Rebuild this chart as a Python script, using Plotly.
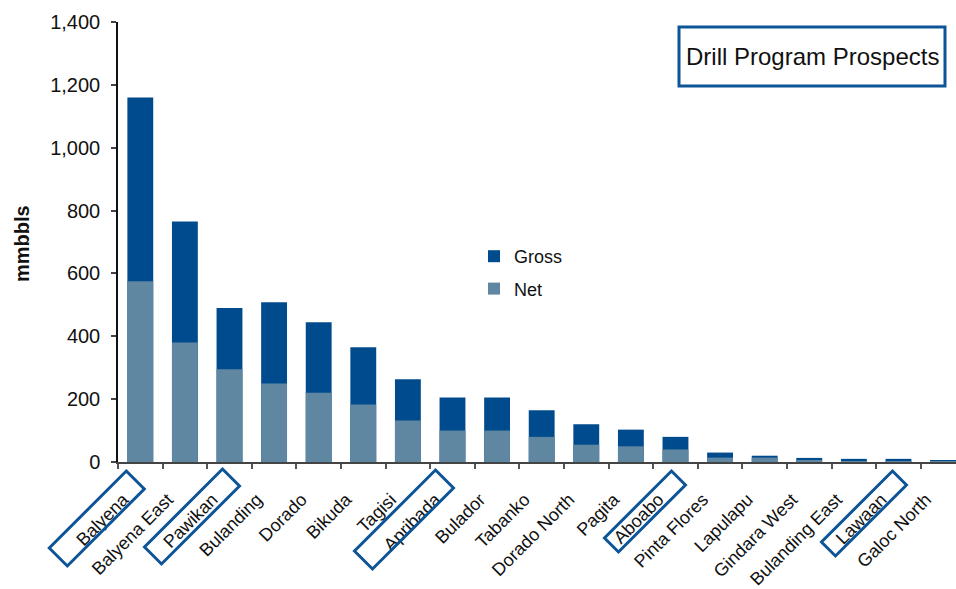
import plotly.graph_objects as go

prospects = ["Balyena", "Balyena East", "Pawikan", "Bulanding", "Dorado", "Bikuda",
             "Tagisi", "Apribada", "Bulador", "Tabanko", "Dorado North", "Pagita",
             "Aboabo", "Pinta Flores", "Lapulapu", "Gindara West", "Bulanding East",
             "Lawaan", "Galoc North"]
gross = [1160, 765, 490, 508, 445, 365, 263, 205, 205, 165, 120, 103, 80, 30, 20, 13, 10, 10, 4]
net = [575, 380, 295, 250, 220, 183, 132, 100, 100, 80, 55, 50, 40, 14, 14, 6, 3, 3, 1]

# highlighted (drill program) prospects
highlighted = ["Balyena", "Pawikan", "Apribada", "Aboabo", "Lawaan"]

FONT = "Liberation Sans"
GROSS_C = "#004B8D"
NET_C = "#5F87A1"
BOX_C = "#0D5596"

W, H = 956, 589
ML, MR, MT, MB = 118, 0, 22, 127
PW, PH = W - ML - MR, H - MT - MB
XMIN, XMAX = -0.5, 18.29
STEP = PW / (XMAX - XMIN)

def px_x(p):
    return (p - ML) / PW

def px_y(p):
    return (H - MB - p) / PH

fig = go.Figure()
fig.add_trace(go.Bar(x=prospects, y=gross, name="Gross", marker_color=GROSS_C,
                     marker_line_width=0, width=0.58, legendgroup="g"))
fig.add_trace(go.Bar(x=prospects, y=net, name="Net", marker_color=NET_C,
                     marker_line_width=0, width=0.58, legendgroup="n"))

# rotated boxes around highlighted tick labels (screen-pixel offsets from tick position)
box_geom = {
    "Balyena": (-14, 9, 18, 77),
    "Pawikan": (-7, 7, 17, 78),
    "Apribada": (-17, 8, 18, 81),
    "Aboabo": (-4, 9, 14, 67),
    "Lawaan": (-6, 9, 14, 71),
}
base_y = H - MB
for name in highlighted:
    dx, dy, s, l = box_geom[name]
    cx = ML + (prospects.index(name) - XMIN) * STEP
    pts = [(dx, dy), (dx + s, dy + s), (dx + s - l, dy + s + l), (dx - l, dy + l)]
    path = "M " + " L ".join(f"{px_x(cx + x):.5f},{px_y(base_y + y):.5f}" for x, y in pts) + " Z"
    fig.add_shape(type="path", xref="paper", yref="paper", path=path,
                  line=dict(color=BOX_C, width=3), fillcolor="rgba(0,0,0,0)", layer="above")

# title box
fig.add_shape(type="rect", xref="paper", yref="paper",
              x0=px_x(679), x1=px_x(945), y0=px_y(86), y1=px_y(27),
              line=dict(color=BOX_C, width=3), fillcolor="white", layer="above")
fig.add_annotation(xref="paper", yref="paper", x=px_x(812), y=px_y(56),
                   text="Drill Program Prospects", showarrow=False,
                   font=dict(family=FONT, size=24, color="#111"),
                   xanchor="center", yanchor="middle")

# y-axis title
fig.add_annotation(xref="paper", yref="paper", x=px_x(22), y=px_y(244),
                   text="<b>mmbbls</b>", showarrow=False, textangle=-90,
                   font=dict(family=FONT, size=20, color="#111"),
                   xanchor="center", yanchor="middle")

fig.update_layout(
    width=W, height=H,
    margin=dict(l=ML, r=MR, t=MT, b=MB, pad=0),
    paper_bgcolor="white", plot_bgcolor="white",
    barmode="overlay",
    font=dict(family=FONT, size=18, color="#111"),
    showlegend=True,
    legend=dict(x=px_x(474), y=px_y(238), xanchor="left", yanchor="top",
                traceorder="grouped", tracegroupgap=6,
                font=dict(family=FONT, size=18, color="#111"),
                bgcolor="rgba(0,0,0,0)"),
    xaxis=dict(range=[XMIN, XMAX], tickangle=-45, tickson="boundaries",
               ticks="outside", ticklen=5, tickcolor="#555", tickwidth=2,
               showline=True, linecolor="#444", linewidth=2,
               showgrid=False, zeroline=False, automargin=False,
               ticklabelstandoff=18, ticklabelshift=-17,
               tickfont=dict(family=FONT, size=18, color="#111")),
    yaxis=dict(range=[0, 1400], dtick=200, tickformat=",d",
               ticks="outside", ticklen=5, tickcolor="#444", tickwidth=1.5,
               showline=True, linecolor="#111", linewidth=1.5,
               showgrid=False, zeroline=False, ticklabelstandoff=7, automargin=False,
               tickfont=dict(family=FONT, size=20, color="#111")),
)

fig.write_html("out.html")
